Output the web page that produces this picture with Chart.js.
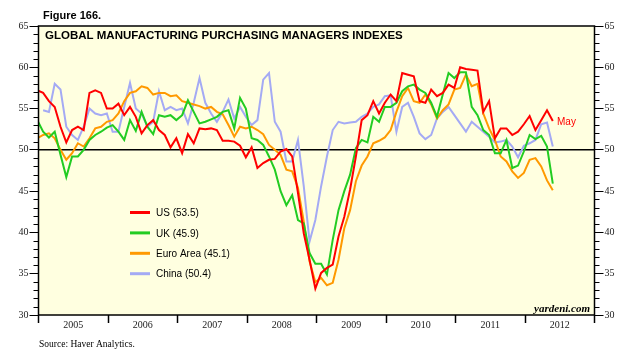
<!DOCTYPE html>
<html>
<head>
<meta charset="utf-8">
<script src="https://cdn.jsdelivr.net/npm/chart.js@4.4.1/dist/chart.umd.min.js"></script>
<style>
  body { margin: 0; background: #fff; }
  canvas { display: block; }
</style>
</head>
<body>
<canvas id="grafico" width="636" height="361"></canvas>
<script>
// monthly readings, Dec 2004 .. May 2012 (first point sits just left of the frame)
var years = ['2005', '2006', '2007', '2008', '2009', '2010', '2011', '2012'];
var yTicks = [30, 35, 40, 45, 50, 55, 60, 65];

var us = [57.2,
    56.9, 55.9, 55.2, 52.8, 50.9, 52.4, 52.8, 52.4, 56.9, 57.2, 56.9, 55.0,
    55.0, 55.6, 54.2, 55.2, 54.0, 52.0, 53.0, 53.6, 52.4, 51.8, 50.3, 51.4,
    49.6, 51.9, 50.8, 52.6, 52.5, 52.6, 52.4, 51.1, 51.1, 51.0, 50.5, 49.1,
    50.3, 47.8, 48.4, 48.8, 48.9, 49.8, 50.1, 49.2, 44.8, 39.9, 36.7, 33.2,
    35.1, 35.7, 36.1, 39.5, 41.9, 45.2, 49.2, 53.6, 54.2, 55.9, 54.4, 55.7,
    56.7, 55.9, 59.3, 59.1, 58.9, 55.9, 55.7, 57.3, 56.5, 56.9, 57.9, 57.5,
    60.0, 59.8, 59.7, 59.6, 54.6, 55.9, 51.4, 52.6, 52.6, 51.8, 52.2, 53.1,
    54.1, 52.4, 53.6, 54.8, 53.5];

var uk = [53.6,
    52.2, 51.5, 52.2, 49.4, 46.7, 49.2, 49.2, 50.0, 51.2, 51.8, 52.2, 52.7,
    53.0, 52.2, 51.2, 53.6, 52.3, 54.6, 52.8, 51.9, 54.2, 54.0, 54.2, 53.6,
    54.2, 56.0, 54.6, 53.2, 53.4, 53.7, 54.0, 54.6, 54.8, 52.6, 56.3, 55.0,
    51.4, 51.2, 50.6, 49.2, 47.6, 45.0, 43.3, 44.5, 41.5, 41.1, 37.5, 36.2,
    36.2, 34.9, 39.1, 42.7, 45.0, 47.0, 50.2, 51.2, 50.9, 54.0, 53.4, 55.2,
    55.2, 55.7, 57.1, 57.7, 57.9, 57.3, 56.9, 55.7, 54.0, 56.7, 59.3, 58.7,
    59.4, 59.4, 55.2, 54.2, 52.4, 51.8, 49.6, 49.6, 51.2, 47.8, 48.1, 49.8,
    51.8, 51.3, 51.7, 50.4, 45.9];

var euro = [51.4,
    51.8, 52.0, 51.4, 50.0, 48.8, 49.6, 50.8, 50.4, 51.4, 52.6, 52.8, 53.4,
    53.6, 54.4, 55.9, 56.9, 57.1, 57.7, 57.5, 56.7, 56.9, 56.9, 56.5, 56.6,
    55.9, 55.7, 55.5, 55.3, 55.0, 55.2, 54.6, 54.3, 53.0, 51.6, 52.8, 52.6,
    52.8, 52.4, 51.9, 50.6, 50.0, 49.4, 47.6, 47.4, 45.4, 41.3, 36.5, 34.0,
    34.5, 33.6, 33.9, 36.7, 40.5, 42.7, 46.2, 48.1, 49.2, 50.8, 51.1, 51.5,
    52.4, 54.6, 56.5, 57.5, 55.9, 55.7, 56.7, 55.5, 53.8, 54.8, 55.5, 57.3,
    57.5, 59.1, 57.7, 58.0, 54.4, 52.6, 51.2, 49.2, 48.6, 47.4, 46.6, 47.2,
    48.8, 49.0, 48.0, 46.3, 45.1];

var china = [null,
    54.8, 54.6, 58.0, 57.3, 52.8, 51.8, 51.2, 52.8, 55.0, 54.4, 54.2, 54.4,
    52.2, 52.2, 55.2, 58.1, 55.0, 54.4, 52.8, 53.4, 57.1, 54.8, 55.2, 54.8,
    55.0, 53.2, 55.7, 58.7, 55.7, 54.4, 53.4, 54.6, 56.1, 53.8, 55.2, 54.0,
    53.0, 53.6, 58.5, 59.3, 53.4, 52.2, 48.6, 48.6, 51.2, 45.6, 38.9, 41.5,
    45.6, 49.2, 52.4, 53.4, 53.2, 53.3, 53.4, 54.0, 54.4, 55.2, 55.5, 56.5,
    56.6, 52.2, 55.2, 55.7, 54.0, 52.0, 51.3, 51.8, 53.8, 54.6, 55.2, 54.2,
    53.2, 52.2, 53.4, 52.8, 52.2, 51.6, 50.9, 51.0, 51.2, 50.4, 49.1, 50.5,
    50.8, 51.2, 53.1, 53.3, 50.4];

var names = ['US', 'UK', 'Euro Area', 'China'];
var colors = ['#ff0000', '#22cc22', '#ff9900', '#a4aaf4'];
var series = [us, uk, euro, china];

// months counted from Jan 2005; each reading plotted near the end of its month
function toPoints(arr) {
    return arr.map(function (v, i) { return { x: i - 0.2, y: v }; });
}

var sans = '"Liberation Sans", Arial, sans-serif';
var serif = '"Liberation Serif", "Times New Roman", serif';

var extras = {
    id: 'extras',
    beforeDraw: function (chart) {
        var ctx = chart.ctx, a = chart.chartArea;
        ctx.save();
        ctx.fillStyle = '#ffffff';
        ctx.fillRect(0, 0, chart.width, chart.height);
        ctx.fillStyle = '#ffffe0';
        ctx.fillRect(a.left, a.top, a.right - a.left, a.bottom - a.top);
        ctx.restore();
    },
    beforeDatasetsDraw: function (chart) {
        var ctx = chart.ctx, a = chart.chartArea;
        var y50 = chart.scales.y.getPixelForValue(50);
        ctx.save();
        ctx.strokeStyle = '#000';
        ctx.lineWidth = 1.5;
        ctx.beginPath();
        ctx.moveTo(a.left, y50);
        ctx.lineTo(a.right, y50);
        ctx.stroke();
        ctx.restore();
    },
    afterDraw: function (chart) {
        var ctx = chart.ctx, a = chart.chartArea, ys = chart.scales.y;
        ctx.save();
        // frame
        ctx.strokeStyle = '#000';
        ctx.lineWidth = 1.5;
        ctx.strokeRect(a.left, a.top, a.right - a.left, a.bottom - a.top);
        // minor ticks on both sides
        ctx.lineWidth = 1;
        ctx.beginPath();
        for (var v = 31; v < 65; v++) {
            if (v % 5 === 0) continue;
            var py = Math.round(ys.getPixelForValue(v)) + 0.5;
            ctx.moveTo(a.left - 5, py);
            ctx.lineTo(a.left, py);
            ctx.moveTo(a.right, py);
            ctx.lineTo(a.right + 5, py);
        }
        ctx.stroke();

        // titles
        ctx.fillStyle = '#000';
        ctx.textBaseline = 'alphabetic';
        ctx.textAlign = 'left';
        ctx.font = 'bold 11px ' + sans;
        ctx.fillText('Figure 166.', 43, 18.5);
        ctx.font = 'bold 11.5px ' + sans;
        ctx.fillText('GLOBAL MANUFACTURING PURCHASING MANAGERS INDEXES', 45, 38.5);

        // legend
        ctx.font = '10px ' + sans;
        for (var i = 0; i < series.length; i++) {
            var ly = 212.5 + i * 20.4;
            ctx.strokeStyle = colors[i];
            ctx.lineWidth = 3;
            ctx.beginPath();
            ctx.moveTo(130, ly);
            ctx.lineTo(150, ly);
            ctx.stroke();
            var last = series[i][series[i].length - 1];
            ctx.fillStyle = '#000';
            ctx.fillText(names[i] + ' (' + last.toFixed(1) + ')', 156, ly + 3.7);
        }

        // May marker
        ctx.fillStyle = '#ff0000';
        ctx.font = '10px ' + sans;
        ctx.fillText('May', 557, 124.5);

        // credit and source
        ctx.fillStyle = '#000';
        ctx.font = 'italic bold 11px ' + serif;
        ctx.textAlign = 'right';
        ctx.fillText('yardeni.com', 590, 311.5);
        ctx.textAlign = 'left';
        ctx.font = '9.5px ' + serif;
        ctx.fillText('Source: Haver Analytics.', 39, 346.5);
        ctx.restore();
    }
};

var yAxis = function (pos) {
    return {
        type: 'linear',
        position: pos,
        min: 30,
        max: 65,
        border: { display: false },
        grid: {
            display: true,
            drawOnChartArea: false,
            drawTicks: true,
            tickLength: 9,
            tickWidth: 1,
            tickColor: function (c) {
                return c.tick && c.tick.value % 5 === 0 ? '#000' : 'rgba(0,0,0,0)';
            }
        },
        ticks: {
            stepSize: 1,
            autoSkip: false,
            padding: 1,
            color: '#222',
            font: { family: serif, size: 10 },
            callback: function (v) { return yTicks.indexOf(v) >= 0 ? String(v) : ''; }
        },
        afterFit: function (scale) {
            scale.width = pos === 'left' ? 38.5 : 41.5;
        }
    };
};

var ctx = document.getElementById('grafico').getContext('2d');
var grafico = new Chart(ctx, {
    type: 'line',
    data: {
        datasets: series.map(function (s, i) {
            return {
                label: names[i],
                data: toPoints(s),
                borderColor: colors[i],
                backgroundColor: colors[i],
                borderWidth: 2,
                pointRadius: 0,
                tension: 0,
                fill: false,
                yAxisID: 'y'
            };
        })
    },
    options: {
        responsive: false,
        animation: false,
        events: [],
        layout: { padding: { top: 26, left: 0, right: 0, bottom: 0 } },
        plugins: {
            legend: { display: false },
            tooltip: { enabled: false },
            title: { display: false }
        },
        scales: {
            x: {
                type: 'linear',
                min: 0,
                max: 96,
                border: { display: false },
                grid: {
                    display: true,
                    drawOnChartArea: false,
                    drawTicks: true,
                    tickLength: 8,
                    tickWidth: 1.5,
                    tickColor: function (c) {
                        return c.tick && c.tick.value % 12 === 0 ? '#000' : 'rgba(0,0,0,0)';
                    }
                },
                ticks: {
                    stepSize: 6,
                    autoSkip: false,
                    maxRotation: 0,
                    minRotation: 0,
                    padding: -4,
                    color: '#222',
                    font: { family: serif, size: 10 },
                    callback: function (v) {
                        return v % 12 === 6 ? years[(v - 6) / 12] : '';
                    }
                },
                afterFit: function (scale) { scale.height = 46; }
            },
            y: yAxis('left'),
            y2: yAxis('right')
        }
    },
    plugins: [extras]
});
</script>
</body>
</html>
